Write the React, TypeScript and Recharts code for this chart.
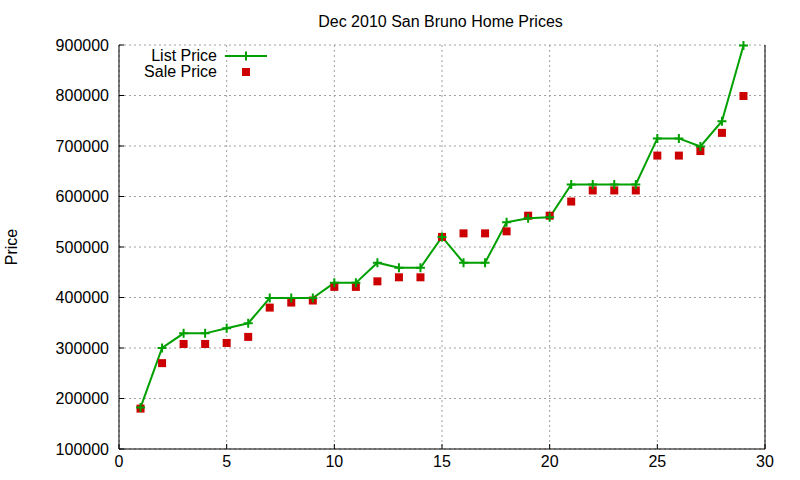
import { CartesianGrid, ComposedChart, Legend, Line, Scatter, XAxis, YAxis } from "recharts";

const DAYS = [1, 2, 3, 4, 5, 6, 7, 8, 9, 10, 11, 12, 13, 14, 15, 16, 17, 18, 19, 20, 21, 22, 23, 24, 25, 26, 27, 28, 29];
const LIST_PRICE = [
  182000, 300000, 329000, 329000, 339000, 349000, 399000, 399000, 399000, 429000, 429000, 469000, 459000, 459000, 520000,
  469000, 469000, 549000, 557000, 559000, 624000, 624000, 624000, 624000, 715000, 715000, 699000, 749000, 899000,
];
const SALE_PRICE = [
  180000, 270000, 308000, 308000, 310000, 322000, 380000, 390000, 394000, 421000, 421000, 432000, 440000, 440000, 520000,
  527000, 527000, 531000, 562000, 562000, 590000, 612000, 612000, 612000, 681000, 681000, 690000, 726000, 799000,
];
const X_TICKS = [0, 5, 10, 15, 20, 25, 30];
const Y_TICKS = [100000, 200000, 300000, 400000, 500000, 600000, 700000, 800000, 900000];

const GREEN = "#00a000";
const RED = "#cc0000";
const FONT = '"Liberation Sans", Arial, sans-serif';

const data = DAYS.map((d, i) => ({ x: d, list: LIST_PRICE[i], sale: SALE_PRICE[i] }));

function PlusDot(props: any) {
  const { cx, cy, index } = props;
  if (cx == null || cy == null) return null;
  return (
    <path
      key={`p-${index}`}
      d={`M${cx - 4.5},${cy}H${cx + 4.5}M${cx},${cy - 4.5}V${cy + 4.5}`}
      stroke={GREEN}
      strokeWidth={2}
      fill="none"
    />
  );
}

function SquareDot(props: any) {
  const { cx, cy } = props;
  if (cx == null || cy == null) return null;
  return <rect x={cx - 4} y={cy - 4} width={8} height={8} fill={RED} />;
}

function LegendBox() {
  return (
    <svg width={150} height={36} style={{ display: "block" }}>
      <text x={77} y={10.5} textAnchor="end" dominantBaseline="central" fontSize={16} fill="#000" fontFamily={FONT}>
        List Price
      </text>
      <line x1={85} y1={11} x2={127} y2={11} stroke={GREEN} strokeWidth={2} />
      <path d="M101.5,11H110.5M106,6.5V15.5" stroke={GREEN} strokeWidth={2} />
      <text x={77} y={26} textAnchor="end" dominantBaseline="central" fontSize={16} fill="#000" fontFamily={FONT}>
        Sale Price
      </text>
      <rect x={102} y={23} width={8} height={8} fill={RED} />
    </svg>
  );
}

export default function App() {
  const tick = { fill: "#000", fontSize: 16, fontFamily: FONT };
  return (
    <div style={{ position: "absolute", left: 0, top: 0, width: 800, height: 480, background: "#fff", fontFamily: FONT }}>
      <div
        style={{
          position: "absolute",
          left: 240,
          top: 14,
          width: 401,
          textAlign: "center",
          fontSize: 16,
          lineHeight: "16px",
          whiteSpace: "nowrap",
          color: "#000",
        }}
      >
        Dec 2010 San Bruno Home Prices
      </div>
      <ComposedChart width={800} height={480} data={data} margin={{ top: 45, right: 34, bottom: 0, left: 0 }}>
        <CartesianGrid stroke="#a0a0a0" strokeDasharray="2 3" />
        <XAxis
          dataKey="x"
          type="number"
          domain={[0, 30]}
          ticks={X_TICKS}
          height={31}
          tick={tick}
          tickSize={-5}
          tickMargin={12}
          axisLine={{ stroke: "#000", strokeWidth: 1 }}
          tickLine={{ stroke: "#000" }}
        />
        <XAxis
          xAxisId="top"
          dataKey="x"
          type="number"
          orientation="top"
          domain={[0, 30]}
          ticks={X_TICKS}
          height={0}
          tick={false}
          tickSize={-5}
          axisLine={{ stroke: "#000", strokeWidth: 1 }}
          tickLine={{ stroke: "#000" }}
        />
        <YAxis
          type="number"
          domain={[100000, 900000]}
          ticks={Y_TICKS}
          width={119}
          tick={tick}
          tickSize={-5}
          tickMargin={15}
          axisLine={{ stroke: "#000", strokeWidth: 1 }}
          tickLine={{ stroke: "#000" }}
          label={{
            value: "Price",
            angle: -90,
            position: "insideLeft",
            offset: 11,
            style: { textAnchor: "middle", fontSize: 16, fill: "#000", fontFamily: FONT },
          }}
        />
        <YAxis
          yAxisId="right"
          type="number"
          orientation="right"
          domain={[100000, 900000]}
          ticks={Y_TICKS}
          width={1}
          tick={false}
          tickSize={-5}
          axisLine={{ stroke: "#000", strokeWidth: 1 }}
          tickLine={{ stroke: "#000" }}
        />
        <Legend
          content={() => <LegendBox />}
          layout="horizontal"
          verticalAlign="middle"
          align="center"
          wrapperStyle={{ top: 45, left: 140, width: 150, height: 36 }}
        />
        <Line
          dataKey="list"
          name="List Price"
          type="linear"
          stroke={GREEN}
          strokeWidth={2}
          dot={PlusDot}
          activeDot={false}
          isAnimationActive={false}
        />
        <Scatter
          dataKey="sale"
          name="Sale Price"
          xAxisId="top"
          yAxisId="right"
          fill={RED}
          shape={SquareDot}
          isAnimationActive={false}
        />
      </ComposedChart>
    </div>
  );
}
